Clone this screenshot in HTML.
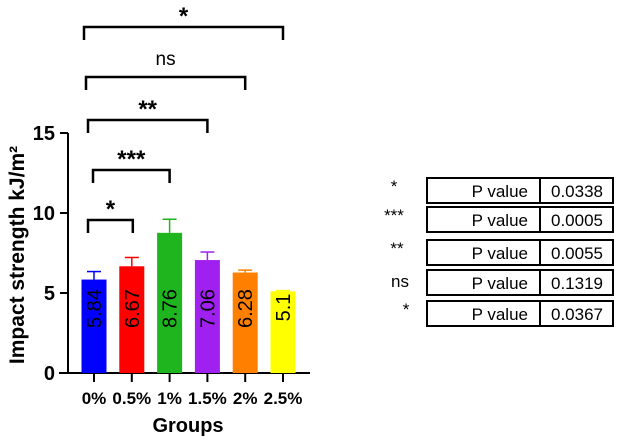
<!DOCTYPE html>
<html><head><meta charset="utf-8"><style>
body{margin:0;background:#fff;width:630px;height:441px;overflow:hidden}
text{font-family:"Liberation Sans",Arial,sans-serif}
</style></head><body>
<svg width="630" height="441">
<g id="plot"></g>
<g id="table"></g>
</svg>
<script>
const categories=["0%","0.5%","1%","1.5%","2%","2.5%"];
const values=[5.84,6.67,8.76,7.06,6.28,5.1];
const errors=[0.5,0.55,0.85,0.5,0.15,0.05];
const colors=["#0000ff","#ff0000","#1fb51f","#a020f0","#ff8000","#ffff00"];
const yTicks=[0,5,10,15];
const sigLabels=["*","***","**","ns","*"];
const pValues=["0.0338","0.0005","0.0055","0.1319","0.0367"];
const brackets=[[0,1,"*"],[0,2,"***"],[0,3,"**"],[0,4,"ns"],[0,5,"*"]];
const NS="http://www.w3.org/2000/svg";
const g=document.getElementById('plot'),tg=document.getElementById('table');
function el(t,a,p){const e=document.createElementNS(NS,t);for(const k in a)e.setAttribute(k,a[k]);(p||g).appendChild(e);return e;}
const y=v=>373-v*16;
const x=i=>94+i*37.8;
let a=el('line',{x1:68,y1:133,x2:68,y2:373,stroke:'#000','stroke-width':2});

a=el('line',{x1:59,y1:373,x2:310,y2:373,stroke:'#000','stroke-width':2});

yTicks.forEach(t=>{
  el('line',{x1:60,y1:y(t),x2:68,y2:y(t),stroke:'#000','stroke-width':2});
  const tx=el('text',{x:55,y:y(t)+7,'text-anchor':'end','font-size':20,'font-weight':'bold'});
  tx.textContent=t;
  
  
});
categories.forEach((c,i)=>{
  const cx=x(i),bw=25;
  el('line',{x1:cx,y1:373,x2:cx,y2:382,stroke:'#000','stroke-width':2});
  const top=y(values[i]+errors[i]);
  el('line',{x1:cx,y1:y(values[i]),x2:cx,y2:top,stroke:colors[i],'stroke-width':1.5});
  el('line',{x1:cx-7,y1:top,x2:cx+7,y2:top,stroke:colors[i],'stroke-width':1.5});
  const b=el('rect',{x:cx-bw/2,y:y(values[i]),width:bw,height:373-y(values[i]),fill:colors[i]});
  
  
  const s=String(values[i]);
  const start=s.length<=3?Math.min(328,y(values[i])+30):328;
  const vt=el('text',{transform:`translate(${cx+7},${start}) rotate(-90)`,'font-size':20,'text-anchor':'start'});
  vt.textContent=s;
  
  
  const lt=el('text',{x:cx,y:404,'text-anchor':'middle','font-size':17,'font-weight':'bold'});
  lt.textContent=c;
  
  
});
const bY=[220,170,120,77,27];
brackets.forEach((br,k)=>{
  const x1=x(br[0])-6+ (k===1?5:0) - (k>=3?k*2-4:0),x2=x(br[1])+ (k===0?1:0);
  const yy=bY[k];
  const p=el('path',{d:`M${x1},${yy+13} V${yy} H${x2} V${yy+13}`,fill:'none',stroke:'#000','stroke-width':2.5});
  
  
  const t=el('text',{x:(x1+x2)/2,y:yy-(br[2]==='ns'?12:3),'text-anchor':'middle','font-size':br[2]==='ns'?19:24,'font-weight':br[2]==='ns'?'normal':'bold'});
  t.textContent=br[2];
  
  
});
let t=el('text',{transform:'translate(24,255) rotate(-90)','text-anchor':'middle','font-size':21,'font-weight':'bold'});
t.textContent='Impact strength kJ/m²';

t=el('text',{x:188,y:432,'text-anchor':'middle','font-size':20,'font-weight':'bold'});
t.textContent='Groups';

const rowY=[178,207,240,270,301];
const labX=[394,394,397,400,406];
pValues.forEach((pv,i)=>{
  const ry=rowY[i];
  const r=el('rect',{x:427,y:ry,width:186,height:25,fill:'#fff',stroke:'#000','stroke-width':2},tg);
  
  
  el('line',{x1:540,y1:ry,x2:540,y2:ry+25,stroke:'#000','stroke-width':2},tg);
  let s=el('text',{x:labX[i],y:ry+(sigLabels[i]==='ns'?17:14),'text-anchor':'middle','font-size':17},tg);
  s.textContent=sigLabels[i];
  
  s=el('text',{x:528,y:ry+19,'text-anchor':'end','font-size':17},tg);
  s.textContent='P value';
  
  s=el('text',{x:577,y:ry+19,'text-anchor':'middle','font-size':17},tg);
  s.textContent=pv;
  
});
</script>
</body></html>
